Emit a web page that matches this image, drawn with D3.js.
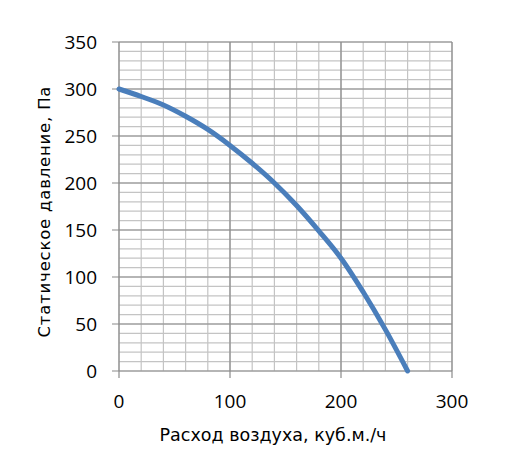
<!DOCTYPE html>
<html>
<head>
<meta charset="utf-8">
<script src="https://cdn.jsdelivr.net/npm/d3@7"></script>
<style>
  body { margin: 0; background: #fff; }
  text { fill: #000; }
</style>
</head>
<body>
<svg id="chart" width="516" height="469"></svg>
<script>
// air flow (m3/h) and static pressure (Pa)
const flow = [0, 20, 40, 60, 80, 100, 120, 140, 160, 180, 200, 220, 240, 260];
const pressure = [300, 292, 283, 271, 257, 240, 221, 200, 176, 149, 120, 84, 44, 0];

const xTicks = [0, 100, 200, 300];
const yTicks = [0, 50, 100, 150, 200, 250, 300, 350];
const xTitle = "Расход воздуха, куб.м./ч";
const yTitle = "Статическое давление, Па";

const plotLeft = 119, plotRight = 452, plotTop = 42, plotBottom = 371;

const svg = d3.select("#chart");

const x = d3.scaleLinear().domain([0, 300]).range([plotLeft, plotRight]);
const y = d3.scaleLinear().domain([0, 350]).range([plotBottom, plotTop]);

// minor grid
const grid = svg.append("g");
grid.append("g").selectAll("line")
    .data(d3.range(0, 301, 20))
    .join("line")
    .attr("x1", d => x(d)).attr("x2", d => x(d))
    .attr("y1", plotTop).attr("y2", plotBottom)
    .attr("stroke", "#c4c4c4").attr("stroke-width", 1.2);
grid.append("g").selectAll("line")
    .data(d3.range(0, 351, 10))
    .join("line")
    .attr("x1", plotLeft).attr("x2", plotRight)
    .attr("y1", d => y(d)).attr("y2", d => y(d))
    .attr("stroke", "#c4c4c4").attr("stroke-width", 1.2);

// major grid with outside ticks
grid.append("g").selectAll("line")
    .data(xTicks)
    .join("line")
    .attr("x1", d => x(d)).attr("x2", d => x(d))
    .attr("y1", plotTop).attr("y2", plotBottom + 7)
    .attr("stroke", "#8a8a8a").attr("stroke-width", 1.2);
grid.append("g").selectAll("line")
    .data(yTicks)
    .join("line")
    .attr("x1", plotLeft - 7).attr("x2", plotRight)
    .attr("y1", d => y(d)).attr("y2", d => y(d))
    .attr("stroke", "#8a8a8a").attr("stroke-width", 1.2);

// tick labels
svg.append("g").selectAll("text")
    .data(xTicks)
    .join("text")
    .attr("x", d => x(d))
    .attr("y", plotBottom + 37)
    .attr("text-anchor", "middle")
    .attr("font-family", "Open Sans")
    .attr("font-size", 19)
    .text(d => d);

svg.append("g").selectAll("text")
    .data(yTicks)
    .join("text")
    .attr("x", 97)
    .attr("y", d => y(d) + 7)
    .attr("text-anchor", "end")
    .attr("font-family", "Open Sans")
    .attr("font-size", 19)
    .text(d => d);

// curve
const line = d3.line()
    .x((d, i) => x(flow[i]))
    .y(d => y(d))
    .curve(d3.curveCatmullRom.alpha(0.5));

svg.append("path")
    .datum(pressure)
    .attr("d", line)
    .attr("fill", "none")
    .attr("stroke", "#4a7ebb")
    .attr("stroke-width", 5)
    .attr("stroke-linecap", "round");

// axis titles
svg.append("text")
    .attr("x", 273)
    .attr("y", 441)
    .attr("text-anchor", "middle")
    .attr("font-family", "DejaVu Sans")
    .attr("font-size", 17.5)
    .text(xTitle);

svg.append("text")
    .attr("transform", "translate(50,212) rotate(-90)")
    .attr("text-anchor", "middle")
    .attr("font-family", "DejaVu Sans")
    .attr("font-size", 16.5)
    .attr("textLength", 251)
    .text(yTitle);
</script>
</body>
</html>
